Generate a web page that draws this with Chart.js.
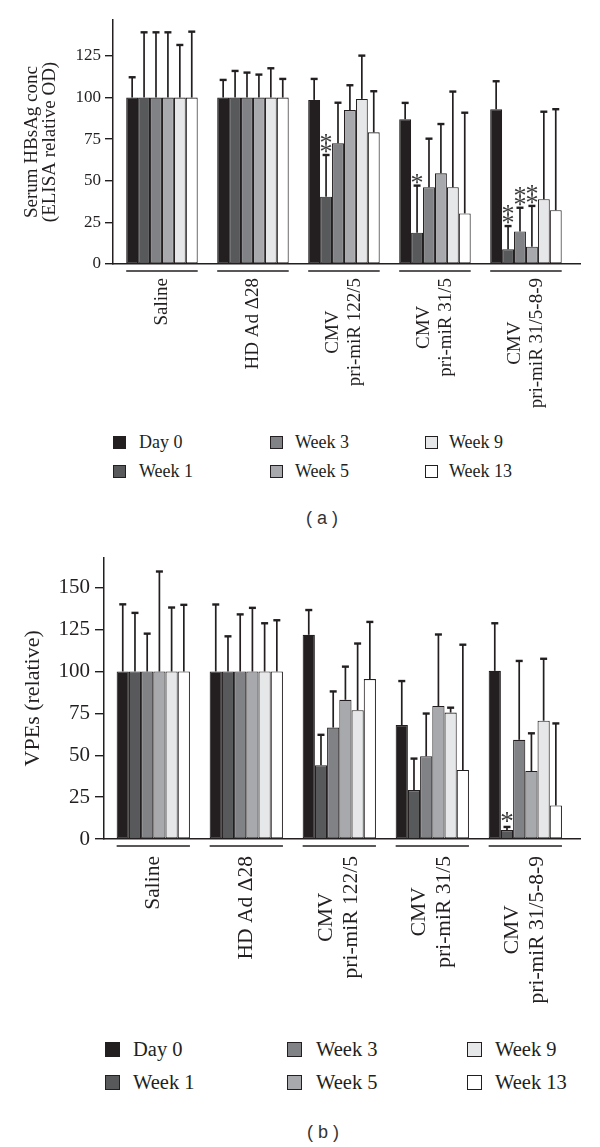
<!DOCTYPE html>
<html>
<head>
<meta charset="utf-8">
<script src="https://cdn.jsdelivr.net/npm/chart.js@4.4.1/dist/chart.umd.min.js"></script>
<style>
  body { margin: 0; background: #fff; }
  #page { position: relative; width: 600px; height: 1147px; overflow: hidden; color: #231f20; font-family: 'Liberation Serif', serif; }
  canvas { position: absolute; left: 0; }
  .box { position: absolute; box-sizing: border-box; border: 1.5px solid #231f20; }
  .txt { position: absolute; white-space: nowrap; transform: translateY(-50%); }
  .cap { position: absolute; font-family: 'Liberation Sans', Arial, sans-serif; color: #333; transform: translate(-50%, -50%); white-space: pre; }
</style>
</head>
<body>
<div id="page">
  <canvas id="chartA" width="600" height="425" style="top:0"></canvas>
  <canvas id="chartB" width="600" height="480" style="top:540px"></canvas>
</div>
<script>
const groups = [['Saline'], ['HD Ad Δ28'], ['CMV', 'pri-miR 122/5'], ['CMV', 'pri-miR 31/5'], ['CMV', 'pri-miR 31/5-8-9']];
const series = ['Day 0', 'Week 1', 'Week 3', 'Week 5', 'Week 9', 'Week 13'];
const fills = ['#231f20', '#58595b', '#808285', '#a7a9ac', '#e6e7e8', '#ffffff'];

// (a) serum HBsAg, one row per series
const hbsMean = [
  [100, 100, 98.6, 87, 93],
  [100, 100, 40.4, 18.8, 8.8],
  [100, 100, 72.5, 46.1, 19.6],
  [100, 100, 92.5, 54.5, 10.4],
  [100, 100, 99.2, 46.1, 38.9],
  [100, 100, 79.1, 30.4, 32.3]
];
const hbsSd = [
  [12.2, 10.6, 12.6, 9.8, 16.8],
  [39.2, 16, 25.1, 28.3, 14],
  [39.2, 15, 24.4, 29.2, 14.2],
  [39.2, 13.8, 14.9, 29.6, 24.5],
  [31.6, 17.6, 26, 57.5, 52.6],
  [39.6, 11.2, 24.7, 60.5, 60.7]
];
const hbsStars = [
  [0, 0, 0, 0, 0],
  [0, 0, 2, 1, 2],
  [0, 0, 0, 0, 2],
  [0, 0, 0, 0, 2],
  [0, 0, 0, 0, 0],
  [0, 0, 0, 0, 0]
];
const hbsTicks = [0, 25, 50, 75, 100, 125];

// (b) VPEs
const vpeMean = [
  [100, 100, 121.9, 68, 100.4],
  [100, 100, 44.1, 29.2, 5.3],
  [100, 100, 66.5, 49.4, 59.2],
  [100, 100, 83.1, 79.4, 40.6],
  [100, 100, 76.9, 75.5, 70.6],
  [100, 100, 95.5, 41.2, 20]
];
const vpeSd = [
  [40.1, 40, 14.8, 26.3, 28.4],
  [35, 21, 18.1, 18.8, 1.9],
  [22.6, 34.1, 21.6, 25.5, 47.1],
  [59.7, 38, 19.8, 42.7, 22.5],
  [38.2, 28.8, 39.8, 2.9, 37],
  [39.8, 30.6, 34.1, 74.8, 49]
];
const vpeStars = [
  [0, 0, 0, 0, 0],
  [0, 0, 0, 0, 1],
  [0, 0, 0, 0, 0],
  [0, 0, 0, 0, 0],
  [0, 0, 0, 0, 0],
  [0, 0, 0, 0, 0]
];
const vpeTicks = [0, 25, 50, 75, 100, 125, 150];

const ink = '#231f20';
const serif = "'Liberation Serif', serif";

// error bars, stars, group underlines and rotated group labels
const extras = {
  id: 'extras',
  afterDatasetsDraw(chart, args, o) {
    const ctx = chart.ctx;
    const y = chart.scales.y;
    ctx.save();
    chart.data.datasets.forEach((ds, i) => {
      chart.getDatasetMeta(i).data.forEach((bar, j) => {
        const top = y.getPixelForValue(ds.data[j] + o.sd[i][j]);
        ctx.strokeStyle = ink;
        ctx.lineWidth = o.errW;
        ctx.beginPath();
        ctx.moveTo(bar.x, bar.y);
        ctx.lineTo(bar.x, top);
        ctx.stroke();
        ctx.lineWidth = o.capW;
        ctx.beginPath();
        ctx.moveTo(bar.x - o.cap, top);
        ctx.lineTo(bar.x + o.cap, top);
        ctx.stroke();
        // significance stars, stacked
        ctx.fillStyle = '#3a3a3a';
        ctx.font = o.starSize + 'px ' + serif;
        ctx.textAlign = 'center';
        ctx.textBaseline = 'alphabetic';
        const m = ctx.measureText('*');
        const mid = (m.actualBoundingBoxAscent - m.actualBoundingBoxDescent) / 2;
        for (let k = 0; k < o.stars[i][j]; k++) {
          const cy = top - o.starGap - k * o.starStep;
          ctx.fillText('*', bar.x, cy + mid);
        }
      });
    });
    ctx.restore();
  },
  afterDraw(chart, args, o) {
    const ctx = chart.ctx;
    const area = chart.chartArea;
    const first = chart.getDatasetMeta(0).data;
    const last = chart.getDatasetMeta(chart.data.datasets.length - 1).data;
    ctx.save();
    groups.forEach((lines, j) => {
      const x0 = first[j].x - first[j].width / 2;
      const x1 = last[j].x + last[j].width / 2;
      ctx.strokeStyle = ink;
      ctx.lineWidth = 1.5;
      ctx.beginPath();
      ctx.moveTo(x0, area.bottom + o.lineGap);
      ctx.lineTo(x1, area.bottom + o.lineGap);
      ctx.stroke();

      const cx = chart.scales.x.getPixelForValue(j);
      ctx.font = o.labelSize + 'px ' + serif;
      ctx.fillStyle = ink;
      ctx.textBaseline = 'middle';
      ctx.textAlign = 'center';
      const w = Math.max(...lines.map(t => ctx.measureText(t).width));
      ctx.save();
      ctx.translate(cx, area.bottom + o.labelGap);
      ctx.rotate(-Math.PI / 2);
      lines.forEach((t, k) => {
        const off = (k - (lines.length - 1) / 2) * o.labelLH;
        ctx.fillText(t, -w / 2, off);
      });
      ctx.restore();
    });
    ctx.restore();
  }
};

function buildChart(id, mean, sd, stars, L) {
  return new Chart(document.getElementById(id), {
    type: 'bar',
    data: {
      labels: groups.map(g => g.join(' ')),
      datasets: series.map((name, i) => ({
        label: name,
        data: mean[i],
        backgroundColor: fills[i],
        borderColor: ink,
        borderWidth: 1.1,
        borderSkipped: false,
        categoryPercentage: L.catPct,
        barPercentage: 1
      }))
    },
    options: {
      responsive: false,
      animation: false,
      layout: { padding: { top: L.top, right: 20, left: 0, bottom: 0 } },
      plugins: {
        legend: { display: false },
        tooltip: { enabled: false },
        extras: {
          sd: sd, stars: stars,
          errW: 1.7, capW: 2.4, cap: 3.5,
          starSize: L.starSize, starGap: L.starGap, starStep: L.starStep,
          lineGap: 7, labelGap: L.labelGap, labelSize: L.labelSize, labelLH: L.labelLH
        }
      },
      scales: {
        x: {
          ticks: { display: false },
          grid: { display: false },
          border: { display: true, color: ink, width: 1.5 },
          afterBuildTicks: s => { s._startValue = L.start; s._valueRange = L.range; },
          afterFit: s => { s.height = L.xh; }
        },
        y: {
          min: 0,
          max: L.max,
          afterBuildTicks: s => { s.ticks = L.ticks.map(v => ({ value: v })); },
          afterFit: s => { s.width = L.yw; },
          ticks: { font: { family: serif, size: L.tickSize }, color: ink, padding: L.tickPad },
          grid: { drawOnChartArea: false, tickLength: L.tickLen, color: ink, lineWidth: 1.4 },
          border: { display: true, color: ink, width: 1.5 },
          title: {
            display: true,
            text: L.title,
            color: ink,
            font: { family: serif, size: L.titleSize, lineHeight: L.titleLH },
            padding: { top: L.titlePad, bottom: 0 }
          }
        }
      }
    },
    plugins: [extras]
  });
}

buildChart('chartA', hbsMean, hbsSd, hbsStars, {
  top: 20, xh: 161, yw: 113, max: 146.6, ticks: hbsTicks,
  start: -0.538, range: 5.132, catPct: 0.786,
  tickSize: 17, tickPad: 4, tickLen: 8,
  title: ['Serum HBsAg conc', '(ELISA relative OD)'], titleSize: 19, titleLH: '18px', titlePad: 23,
  labelGap: 14, labelSize: 19, labelLH: 22,
  starSize: 26, starGap: 7, starStep: 9
});

buildChart('chartB', vpeMean, vpeSd, vpeStars, {
  top: 13, xh: 181, yw: 104, max: 168, ticks: vpeTicks,
  start: -0.530, range: 5.118, catPct: 0.788,
  tickSize: 21, tickPad: 5, tickLen: 9,
  title: 'VPEs (relative)', titleSize: 22, titleLH: '26px', titlePad: 20,
  labelGap: 17, labelSize: 21.5, labelLH: 25,
  starSize: 27, starGap: 9, starStep: 10
});

// legends: column-major, three columns of two
function buildKey(K) {
  const page = document.getElementById('page');
  series.forEach((name, i) => {
    const col = Math.floor(i / 2), row = i % 2;
    const box = document.createElement('div');
    box.className = 'box';
    box.style.left = K.boxX[col] + 'px';
    box.style.top = (K.rowY[row] - K.box / 2) + 'px';
    box.style.width = K.box + 'px';
    box.style.height = K.box + 'px';
    box.style.background = fills[i];
    page.appendChild(box);
    const t = document.createElement('div');
    t.className = 'txt';
    t.textContent = name;
    t.style.left = K.textX[col] + 'px';
    t.style.top = K.rowY[row] + 'px';
    t.style.fontSize = K.size + 'px';
    page.appendChild(t);
  });
  const c = document.createElement('div');
  c.className = 'cap';
  c.textContent = K.caption;
  c.style.left = K.capX + 'px';
  c.style.top = K.capY + 'px';
  c.style.fontSize = K.capSize + 'px';
  page.appendChild(c);
}

buildKey({ boxX: [113, 270, 425], textX: [139, 295, 449], rowY: [442, 471], box: 13, size: 18,
  caption: '( a )', capX: 322, capY: 518, capSize: 18 });
buildKey({ boxX: [105, 287, 467], textX: [133, 316, 495], rowY: [1049, 1082], box: 15, size: 20.5,
  caption: '( b )', capX: 323, capY: 1132, capSize: 18 });
</script>
</body>
</html>
